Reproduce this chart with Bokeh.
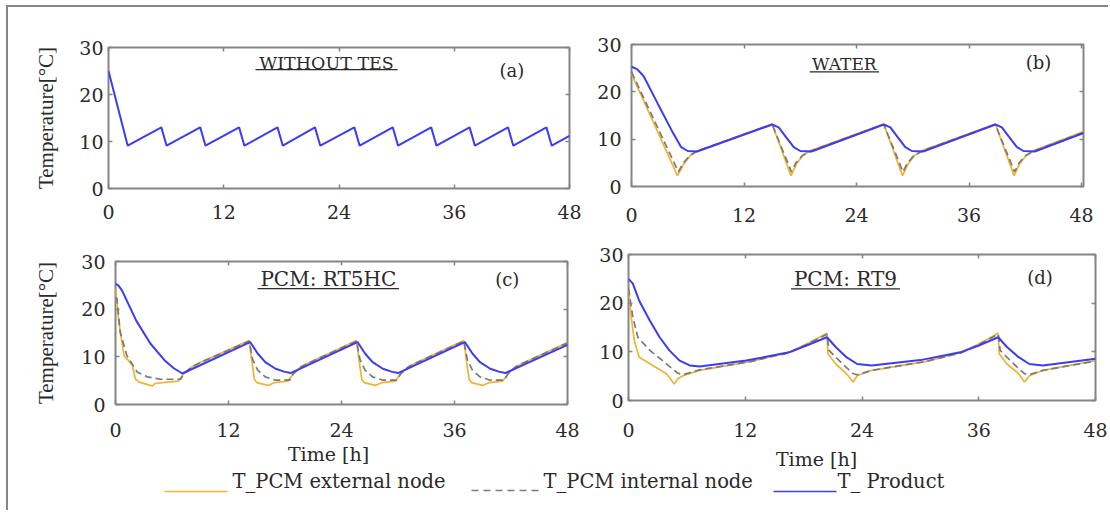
from bokeh.plotting import figure
from bokeh.models import Range1d, LinearAxis, FixedTicker, Label
from bokeh.layouts import row, column
from bokeh.embed import file_html
from bokeh.resources import INLINE

# ---------------- data ----------------
X_TICKS = [0, 12, 24, 36, 48]
Y_TICKS = [0, 10, 20, 30]

titles = ["WITHOUT TES", "WATER", "PCM: RT5HC", "PCM: RT9"]
tags = ["(a)", "(b)", "(c)", "(d)"]
legend_labels = ["T_PCM external node", "T_PCM internal node", "T_ Product"]
x_label = "Time [h]"
y_label = "Temperature[°C]"

# (a) without TES - product only
a_prod_t = [0, 2.0, 5.5, 6.05, 9.55, 10.1, 13.6, 14.15, 17.6, 18.15, 21.5, 22.05,
            25.6, 26.15, 29.6, 30.15, 33.6, 34.15, 37.6, 38.15, 41.6, 42.15, 45.6, 46.15, 48.0]
a_prod_v = [25.0, 9.1, 13.0, 9.1, 13.0, 9.1, 13.0, 9.1, 13.0, 9.1, 13.0, 9.1,
            13.0, 9.1, 13.0, 9.1, 13.0, 9.1, 13.0, 9.1, 13.0, 9.1, 13.0, 9.1, 11.2]

# (b) water
b_prod_t = [0, 0.6, 1.3, 2.8, 4.3, 5.3, 6.0, 7.0, 15.0, 15.7, 16.5, 17.3, 18.0, 19.2,
            26.9, 27.6, 28.4, 29.2, 29.9, 31.1, 38.8, 39.5, 40.3, 41.1, 41.8, 43.0, 48.2]
b_prod_v = [25.3, 24.8, 23.3, 17.5, 11.8, 8.3, 7.5, 7.4, 13.1, 12.5, 10.4, 8.3, 7.5, 7.4,
            13.1, 12.5, 10.4, 8.3, 7.5, 7.4, 13.1, 12.5, 10.4, 8.3, 7.5, 7.4, 11.3]
b_ext_t = [0, 4.9, 5.6, 6.3, 7.0, 15.0, 17.0, 17.6, 18.3, 19.1, 26.9, 28.9, 29.5, 30.2, 31.0,
           38.8, 40.8, 41.4, 42.1, 42.9, 48.2]
b_ext_v = [23.8, 2.3, 4.8, 6.6, 7.5, 13.2, 2.3, 4.8, 6.6, 7.6, 13.2, 2.3, 4.8, 6.6, 7.6,
           13.2, 2.3, 4.8, 6.6, 7.6, 11.6]
b_int_t = [0, 5.0, 5.5, 6.2, 7.0, 15.0, 17.05, 17.5, 18.2, 19.1, 26.9, 28.95, 29.4, 30.1, 31.0,
           38.8, 40.85, 41.3, 42.0, 42.9, 48.2]
b_int_v = [24.2, 3.1, 4.9, 6.5, 7.5, 13.1, 3.1, 4.9, 6.5, 7.5, 13.1, 3.1, 4.9, 6.5, 7.5,
           13.1, 3.1, 4.9, 6.5, 7.5, 11.4]

# (c) PCM RT5HC
c_prod_t = [0, 0.3, 0.7, 2.2, 3.7, 5.2, 6.2, 7.1, 14.3, 15.1, 15.9, 17.0, 17.9, 18.6,
            25.7, 26.5, 27.3, 28.4, 29.3, 30.0, 37.1, 37.9, 38.7, 39.8, 40.7, 41.4, 48.0]
c_prod_v = [25.3, 25.0, 23.9, 17.6, 12.8, 9.3, 7.6, 6.5, 13.1, 10.7, 8.9, 7.5, 6.9, 6.6,
            13.1, 10.7, 8.9, 7.5, 6.9, 6.6, 13.1, 10.7, 8.9, 7.5, 6.9, 6.6, 12.5]
c_ext_t = [0, 0.35, 0.9, 1.8, 2.1, 2.5, 3.9, 4.2, 5.5, 6.7, 7.25, 8.1, 9.0, 14.2,
           14.45, 14.75, 15.0, 16.2, 16.9, 18.3, 18.9, 19.7, 20.6, 25.6,
           25.85, 26.15, 26.4, 27.6, 28.3, 29.7, 30.3, 31.1, 32.0, 37.0,
           37.25, 37.55, 37.8, 39.0, 39.7, 41.1, 41.7, 42.5, 43.4, 48.0]
c_ext_v = [24.3, 17.3, 10.3, 8.2, 5.4, 4.7, 3.9, 4.4, 4.7, 4.9, 6.5, 7.9, 8.8, 13.4,
           9.5, 5.3, 4.6, 4.0, 4.6, 4.9, 6.5, 7.9, 8.8, 13.4,
           9.5, 5.3, 4.6, 4.0, 4.6, 4.9, 6.5, 7.9, 8.8, 13.4,
           9.5, 5.3, 4.6, 4.0, 4.6, 4.9, 6.5, 7.9, 8.8, 13.0]
c_int_t = [0, 0.15, 0.5, 1.2, 2.3, 3.4, 4.8, 6.9, 7.3, 8.1, 9.0, 14.2,
           14.55, 15.1, 15.9, 17.0, 18.5, 18.9, 19.7, 20.6, 25.6,
           25.95, 26.5, 27.3, 28.4, 29.9, 30.3, 31.1, 32.0, 37.0,
           37.35, 37.9, 38.7, 39.8, 41.3, 41.7, 42.5, 43.4, 48.0]
c_int_v = [22.5, 22.2, 15.2, 10.3, 6.8, 5.8, 5.3, 5.3, 6.5, 7.9, 8.8, 13.3,
           9.5, 7.2, 5.8, 5.1, 5.1, 6.5, 7.9, 8.8, 13.3,
           9.5, 7.2, 5.8, 5.1, 5.1, 6.5, 7.9, 8.8, 13.3,
           9.5, 7.2, 5.8, 5.1, 5.1, 6.5, 7.9, 8.8, 12.9]

# (d) PCM RT9
d_prod_t = [0, 0.45, 1.1, 2.2, 3.2, 4.2, 5.25, 6.3, 7.3, 12.1, 16.5, 18.3, 20.4,
            21.3, 22.4, 23.5, 25.0, 30.0, 34.1, 36.0, 38.0,
            38.9, 40.1, 41.2, 42.6, 48.0]
d_prod_v = [25.0, 24.0, 20.5, 16.4, 13.0, 10.3, 8.2, 7.2, 7.0, 8.2, 9.9, 11.3, 13.0,
            11.0, 8.9, 7.5, 7.2, 8.3, 9.9, 11.3, 13.0,
            11.0, 8.9, 7.5, 7.2, 8.6]
d_ext_t = [0, 0.28, 0.6, 1.1, 2.5, 3.9, 4.7, 5.1, 5.6, 7.3, 12.5, 16.5, 18.3, 20.4,
           20.5, 21.3, 22.4, 23.1, 23.5, 25.0, 30.5, 34.2, 36.0, 38.0,
           38.1, 38.9, 40.1, 40.7, 41.2, 42.6, 48.0]
d_ext_v = [22.6, 17.1, 12.3, 8.9, 7.2, 5.5, 3.4, 4.5, 5.1, 6.2, 8.0, 9.9, 11.6, 13.8,
           9.6, 7.5, 5.5, 3.8, 5.1, 6.2, 8.0, 9.9, 11.6, 13.8,
           9.6, 7.5, 5.5, 3.8, 5.1, 6.2, 8.2]
d_int_t = [0, 0.45, 0.96, 2.2, 3.5, 4.7, 5.1, 5.6, 7.3, 12.5, 16.5, 18.3, 20.4,
           20.6, 22.0, 23.1, 23.5, 25.0, 30.5, 34.2, 36.0, 38.0,
           38.2, 39.6, 40.7, 41.2, 42.6, 48.0]
d_int_v = [23.0, 17.1, 13.0, 10.3, 8.2, 6.2, 5.6, 5.3, 6.3, 8.0, 9.8, 11.5, 13.6,
           10.3, 7.5, 5.5, 5.3, 6.2, 8.0, 9.8, 11.5, 13.6,
           10.3, 7.5, 5.5, 5.3, 6.2, 8.1]

# ---------------- style ----------------
BLUE = "#3c3cf2"
ORANGE = "#f2b233"
GRAY = "#7a7a7a"
FRAME = "#858585"
TEXT = "#2a2a2a"
FONT = "DejaVu Serif"
YFONT = "Liberation Serif"


def make_panel(width, height, mb, x_end, y_std, x_std, ylab=None, ylab_std=20):
    p = figure(width=width, height=height, x_range=Range1d(0, x_end), y_range=Range1d(0, 30),
               output_backend="svg", toolbar_location=None, frame_align=False,
               min_border_left=mb[0], min_border_right=mb[1],
               min_border_top=mb[2], min_border_bottom=mb[3])
    p.xgrid.visible = False
    p.ygrid.visible = False
    p.outline_line_color = FRAME
    p.outline_line_width = 2
    p.background_fill_color = "white"
    p.border_fill_color = "white"
    for ax, ticks, std in ((p.xaxis[0], X_TICKS, x_std), (p.yaxis[0], Y_TICKS, y_std)):
        ax.ticker = FixedTicker(ticks=ticks, minor_ticks=[])
        ax.axis_line_color = None
        ax.major_tick_in = 4
        ax.major_tick_out = 0
        ax.major_tick_line_color = FRAME
        ax.major_tick_line_width = 1.5
        ax.minor_tick_line_color = None
        ax.major_label_text_font = FONT
        ax.major_label_text_font_size = "19px"
        ax.major_label_text_color = TEXT
        ax.major_label_standoff = std
    if ylab:
        p.yaxis[0].axis_label = ylab
        p.yaxis[0].axis_label_text_font = YFONT
        p.yaxis[0].axis_label_text_font_size = "21px"
        p.yaxis[0].axis_label_text_font_style = "normal"
        p.yaxis[0].axis_label_text_color = TEXT
        p.yaxis[0].axis_label_standoff = ylab_std
    for side, ticks in (("above", X_TICKS), ("right", Y_TICKS)):
        ax = LinearAxis(ticker=FixedTicker(ticks=ticks, minor_ticks=[]),
                        major_label_overrides={t: "" for t in ticks},
                        major_label_text_font_size="1px", major_label_standoff=0,
                        major_label_text_alpha=0,
                        axis_line_color=None, major_tick_in=4, major_tick_out=0,
                        major_tick_line_color=FRAME, major_tick_line_width=1.5,
                        minor_tick_line_color=None)
        p.add_layout(ax, side)
    return p


def add_title(p, text, size, cx, cy, uy, half_w, tag, tx, ty):
    p.add_layout(Label(x=cx, y=cy, text=text, text_align="center", text_baseline="middle",
                       text_font=FONT, text_font_size=size, text_color=TEXT))
    p.segment(x0=[cx - half_w], y0=[uy], x1=[cx + half_w], y1=[uy], line_color=TEXT, line_width=1.2)
    p.add_layout(Label(x=tx, y=ty, text=tag, text_align="center", text_baseline="middle",
                       text_font=FONT, text_font_size="18px", text_color=TEXT))


def add_series(p, ext, inn, prod):
    if ext:
        p.line(ext[0], ext[1], line_color=ORANGE, line_width=1.7)
    if inn:
        p.line(inn[0], inn[1], line_color=GRAY, line_width=1.7, line_dash="7 4")
    p.line(prod[0], prod[1], line_color=BLUE, line_width=2)


# panel (a)
pa = make_panel(577, 231, (100, 16, 40, 50), 48, 5, 16, ylab=y_label, ylab_std=18)
add_series(pa, None, None, (a_prod_t, a_prod_v))
add_title(pa, titles[0], "17.5px", 22.7, 26.8, 25.3, 7.4, tags[0], 42.0, 25.2)

# panel (b)
pb = make_panel(516, 231, (46, 18, 37, 52), 48.2, 10, 21)
add_series(pb, (b_ext_t, b_ext_v), (b_int_t, b_int_v), (b_prod_t, b_prod_v))
add_title(pb, titles[1], "17px", 22.7, 25.9, 24.2, 3.7, tags[1], 43.4, 26.3)

# panel (c)
pc = make_panel(577, 211, (107, 18, 23, 45), 48, 10, 18, ylab=y_label, ylab_std=20)
add_series(pc, (c_ext_t, c_ext_v), (c_int_t, c_int_v), (c_prod_t, c_prod_v))
add_title(pc, titles[2], "20px", 22.6, 26.4, 24.3, 7.5, tags[2], 41.6, 26.2)

# panel (d)
pd = make_panel(523, 211, (43, 13, 16, 49), 48, 5, 22)
add_series(pd, (d_ext_t, d_ext_v), (d_int_t, d_int_v), (d_prod_t, d_prod_v))
add_title(pd, titles[3], "20px", 22.3, 25.0, 22.95, 5.6, tags[3], 42.3, 25.3)

# bottom strip (transparent, slightly overlapping): time labels + legend
SW, SH = 1100, 76
pl = figure(width=SW, height=SH, output_backend="svg", toolbar_location=None,
            x_range=Range1d(0, SW), y_range=Range1d(0, SH), min_border=0, frame_align=False,
            x_axis_location=None, y_axis_location=None,
            styles={"margin-top": "-15px"})
pl.xgrid.visible = False
pl.ygrid.visible = False
pl.outline_line_color = None
pl.background_fill_color = None
pl.border_fill_color = None
for lx, ly in ((320, 57), (808, 52)):
    pl.add_layout(Label(x=lx, y=ly, x_units="screen", y_units="screen", text=x_label,
                        text_align="center", text_baseline="middle", text_font=FONT,
                        text_font_size="19px", text_color=TEXT))

# legend: key line (start, end, level) + label start, in strip pixels
legend_keys = [(156, 219, 19, 224, ORANGE, "solid"),
               (463, 531, 20, 535, GRAY, "7 5"),
               (765, 828, 19, 829, BLUE, "solid")]
for (k0, k1, ky, lx, col, dash), lab in zip(legend_keys, legend_labels):
    pl.segment(x0=[k0], y0=[ky], x1=[k1], y1=[ky], line_color=col, line_width=1.3, line_dash=dash)
    pl.add_layout(Label(x=lx, y=29, x_units="screen", y_units="screen", text=lab,
                        text_align="left", text_baseline="middle", text_font=FONT,
                        text_font_size="19.5px", text_color=TEXT))

layout = column(row(pa, pb), row(pc, pd), pl,
                styles={"margin-left": "6px", "margin-top": "5px",
                        "border-left": "2px solid #858585", "border-top": "2px solid #858585"})

open("out.html", "w").write(file_html(layout, INLINE))
